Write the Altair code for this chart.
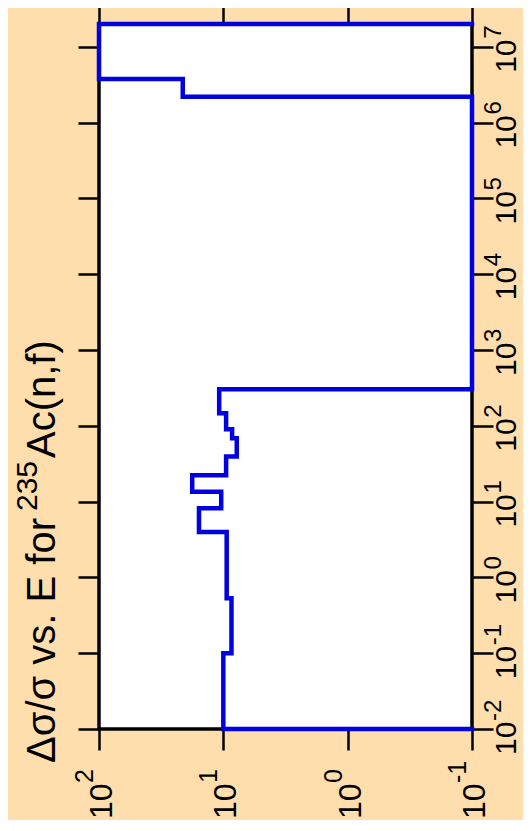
import altair as alt
import pandas as pd

# ---- data (rotated plot: E vertical, dsig/sig horizontal) ----
E_EDGES = [0.01, 0.1, 0.53, 3.96, 8.2, 13.5, 22.3, 39.3, 68.7, 90.0, 147.0, 304.0,
           2.19e6, 3.76e6, 2.0e7]
DSIG = [10.0, 8.6, 9.4, 15.7, 10.4, 17.8, 9.5, 7.8, 8.5, 9.5, 10.8, 0.1, 21.2, 100.0]

X_TICKS = [0.1, 1.0, 10.0, 100.0]
X_EXPS = ["-1", "0", "1", "2"]
Y_TICKS = [1e-2, 1e-1, 1e0, 1e1, 1e2, 1e3, 1e4, 1e5, 1e6, 1e7]
Y_EXPS = ["-2", "-1", "0", "1", "2", "3", "4", "5", "6", "7"]

TITLE_MAIN = "Δσ/σ vs. E for"
TITLE_SUP = "235"
TITLE_TAIL = "Ac(n,f)"

X_DOMAIN = [0.1, 100.0]
Y_DOMAIN = [0.01, 2.0e7]

FONT = "Liberation Sans"
BLUE = "#0000E0"
BG = "#FFDEAD"

W, H = 373, 705
PAD = {"left": 91, "top": 16, "right": 51, "bottom": 91}

# step path built from the bin edges / values
rows = [{"i": 0, "dsig": X_DOMAIN[0], "E": E_EDGES[0]}]
for k, v in enumerate(DSIG):
    rows.append({"i": len(rows), "dsig": v, "E": E_EDGES[k]})
    rows.append({"i": len(rows), "dsig": v, "E": E_EDGES[k + 1]})
rows.append({"i": len(rows), "dsig": X_DOMAIN[0], "E": E_EDGES[-1]})
path = pd.DataFrame(rows)

xs = alt.Scale(type="log", domain=X_DOMAIN, reverse=True, nice=False, zero=False)
ys = alt.Scale(type="log", domain=Y_DOMAIN, nice=False, zero=False)


def tick_axis(orient, values):
    return alt.Axis(orient=orient, values=values, labels=False, domain=False,
                    grid=False, title=None, ticks=True, tickSize=21,
                    tickWidth=2.5, tickColor="black")


ghost = alt.Chart(path).mark_point(opacity=0).encode(
    x=alt.X("dsig:Q", scale=xs, axis=tick_axis("top", X_TICKS)),
    y=alt.Y("E:Q", scale=ys, axis=tick_axis("right", Y_TICKS)),
)

line = alt.Chart(path).mark_line(
    color=BLUE, strokeWidth=4.5, strokeJoin="miter", strokeCap="square", clip=False
).encode(
    x=alt.X("dsig:Q", scale=xs, axis=tick_axis("bottom", X_TICKS)),
    y=alt.Y("E:Q", scale=ys, axis=tick_axis("left", Y_TICKS)),
    order="i:Q",
)

xlab = pd.DataFrame({"v": X_TICKS, "exp": X_EXPS})
ylab = pd.DataFrame({"v": Y_TICKS, "exp": Y_EXPS})

xbase = alt.Chart(xlab).mark_text(
    text="10", angle=270, align="left", baseline="alphabetic",
    fontSize=32, font=FONT, color="black", dy=13
).encode(x=alt.X("v:Q", scale=xs, axis=None), y=alt.value(H + 90))

xsup = alt.Chart(xlab).mark_text(
    angle=270, align="left", baseline="alphabetic",
    fontSize=25, font=FONT, color="black", dy=-6
).encode(x=alt.X("v:Q", scale=xs, axis=None), y=alt.value(H + 54), text="exp:N")

ybase = alt.Chart(ylab).mark_text(
    text="10", angle=270, align="left", baseline="alphabetic",
    fontSize=30, font=FONT, color="black", dx=-26
).encode(y=alt.Y("v:Q", scale=ys, axis=None), x=alt.value(W + 44))

ysup = alt.Chart(ylab).mark_text(
    angle=270, align="left", baseline="alphabetic",
    fontSize=24, font=FONT, color="black", dx=8
).encode(y=alt.Y("v:Q", scale=ys, axis=None), x=alt.value(W + 29), text="exp:N")


def title_piece(txt, size, xpix, ypix):
    return alt.Chart(pd.DataFrame({"t": [txt]})).mark_text(
        angle=270, align="left", baseline="alphabetic",
        fontSize=size, font=FONT, color="black"
    ).encode(text="t:N", x=alt.value(xpix), y=alt.value(ypix))


t1 = title_piece(TITLE_MAIN, 40, -44, 739)
t2 = title_piece(TITLE_SUP, 30, -62, 487)
t3 = title_piece(TITLE_TAIL, 40, -44, 434)

chart = alt.layer(
    ghost, line, xbase, xsup, ybase, ysup, t1, t2, t3
).resolve_axis(
    x="independent", y="independent"
).properties(
    width=W, height=H,
    autosize=alt.AutoSizeParams(type="none"),
    padding=PAD,
    background=BG,
).configure_view(
    fill="white", stroke="black", strokeWidth=3.5
)

chart.save("out.html", embed_options={"renderer": "svg", "actions": False})
